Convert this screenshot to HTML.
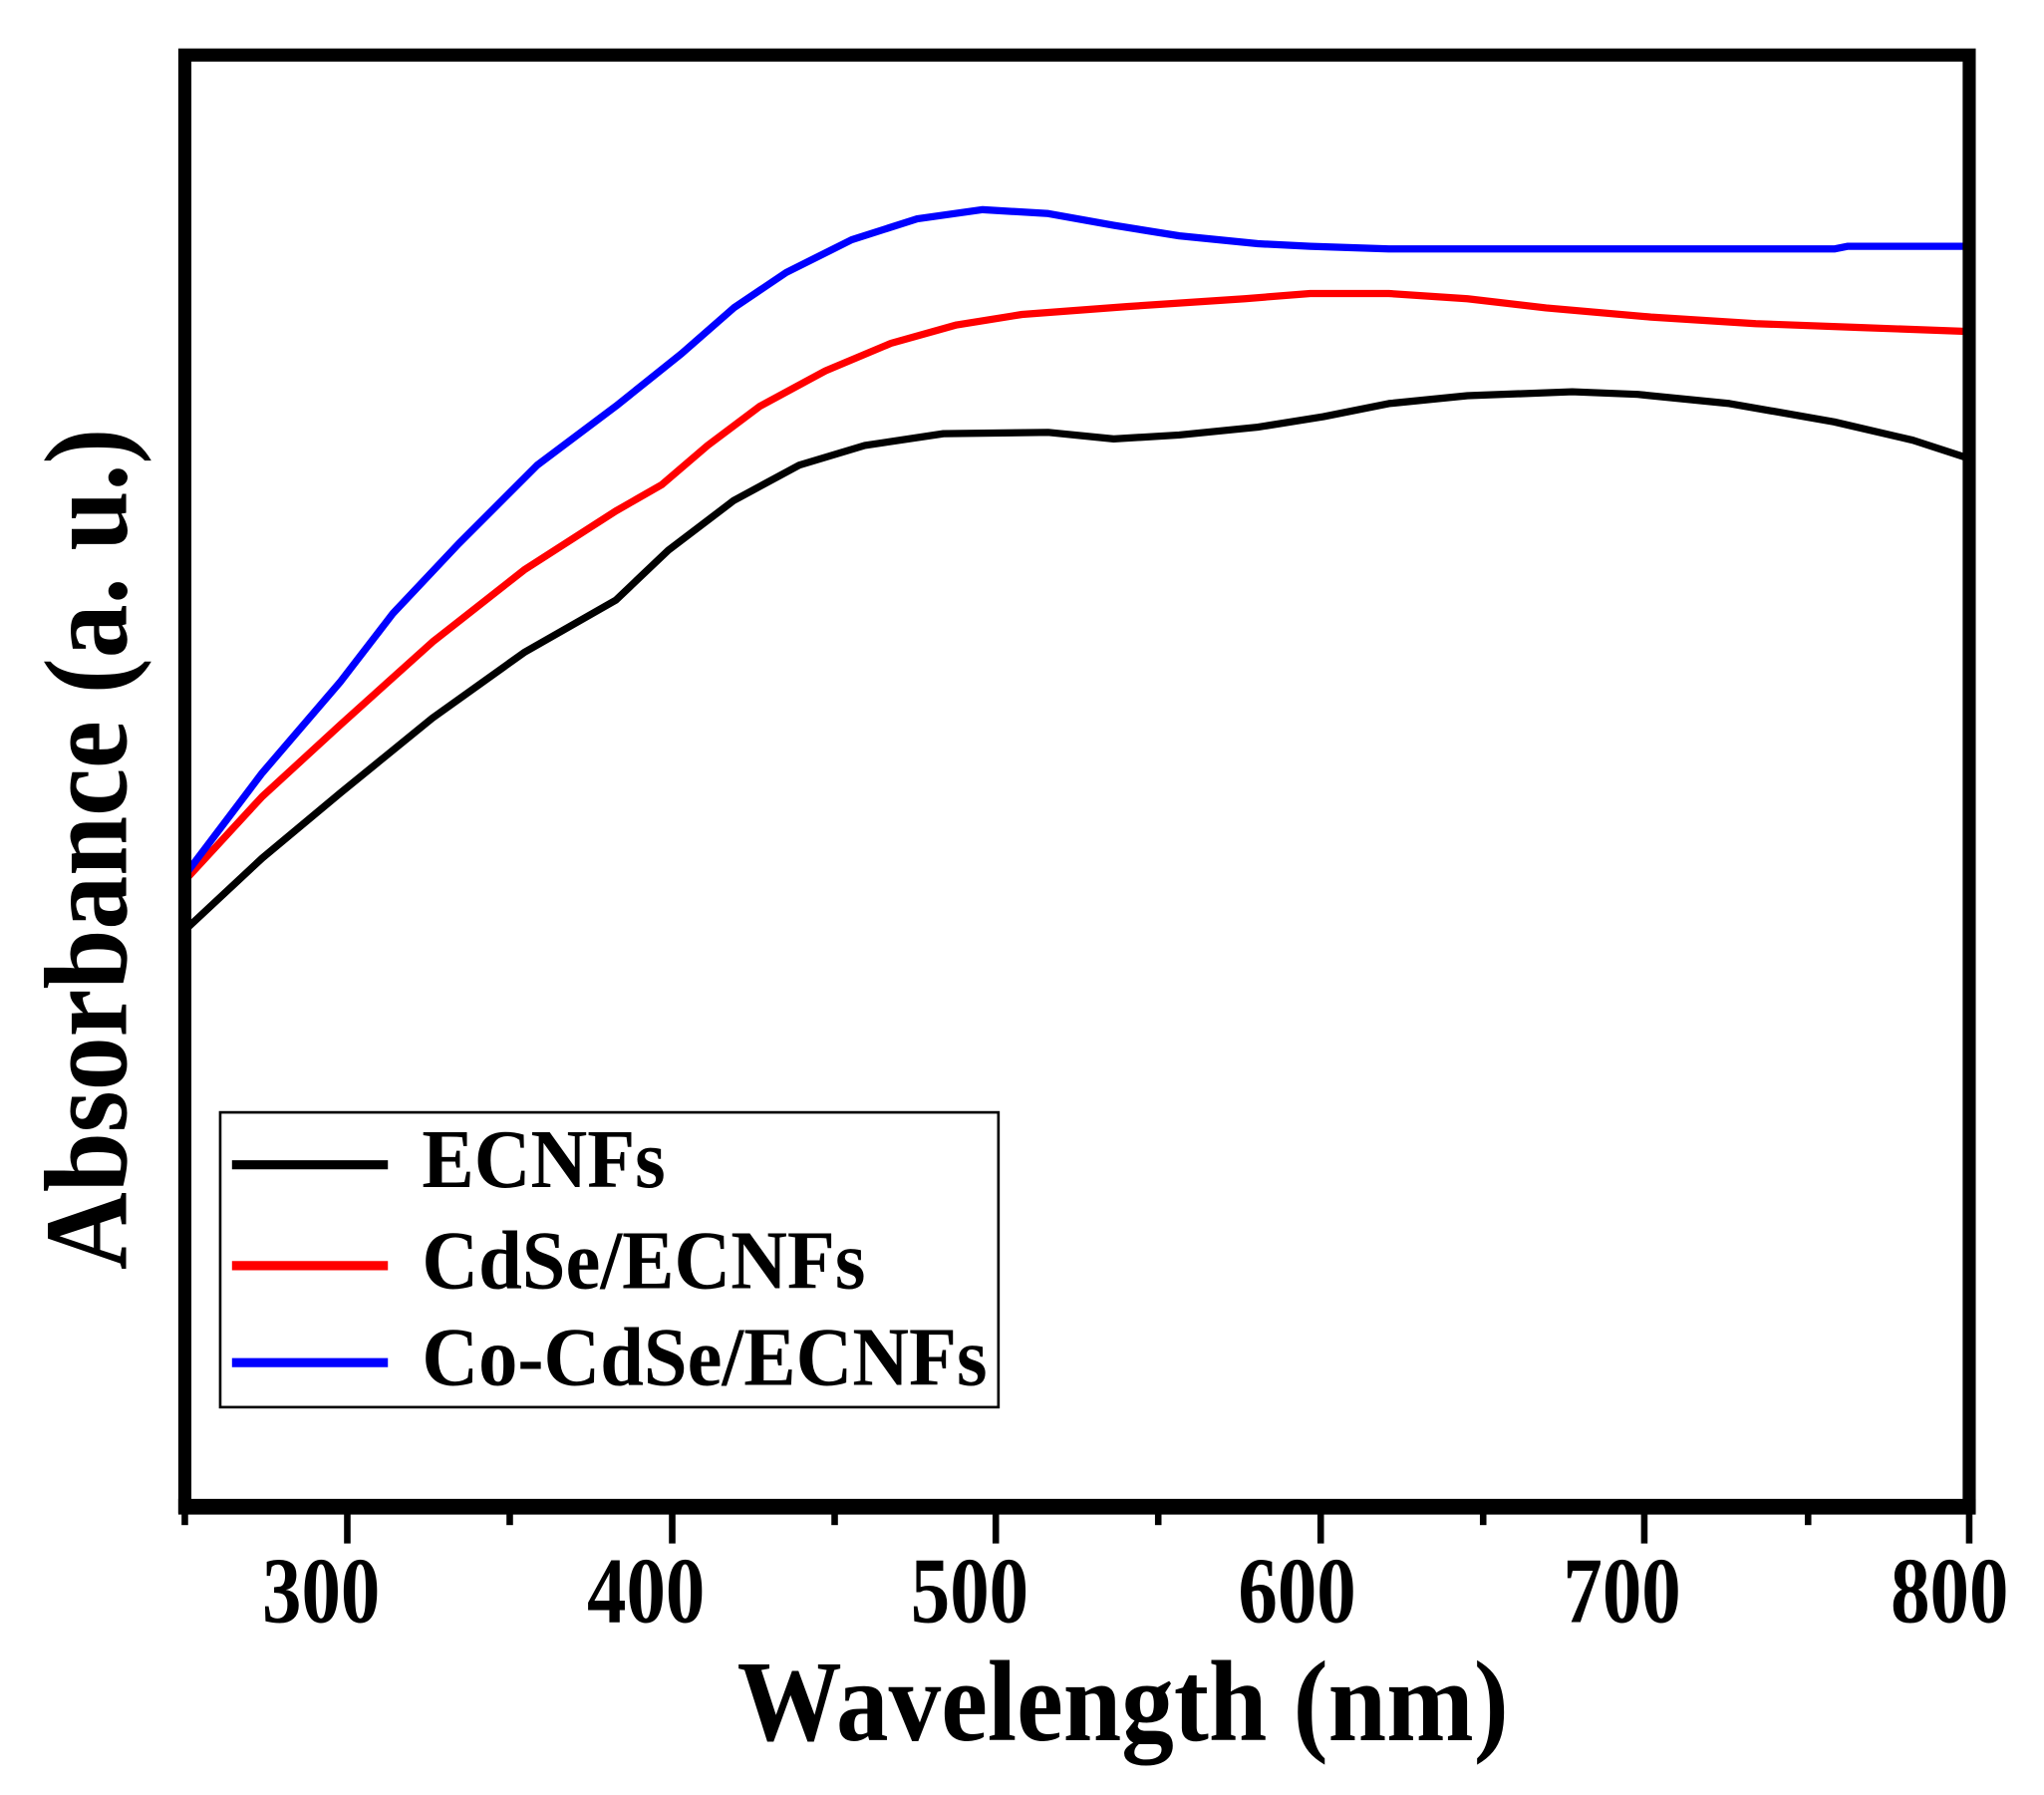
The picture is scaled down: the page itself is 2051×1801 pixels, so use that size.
<!DOCTYPE html>
<html><head><meta charset="utf-8"><style>html,body{margin:0;padding:0;background:#fff}svg{display:block}</style></head>
<body>
<svg width="2051" height="1801" viewBox="0 0 1560 1370" xmlns="http://www.w3.org/2000/svg">
<rect width="1560" height="1370" fill="#fff"/>
<g fill="none" stroke-linejoin="round" stroke-linecap="round" stroke-width="5.5">
<polyline stroke="#000" points="141,710 200,655 260,605 330,548 400,498 470,458 510,420 560,382 610,355 660,340 720,331 800,330 850,335 900,332 960,326 1010,318 1060,308 1120,302 1200,299 1250,301 1320,308 1400,322 1460,336 1503,350"/>
<polyline stroke="#ff0000" points="141,672 200,608 260,553 330,490 400,435 470,390 505,370 540,340 580,310 630,283 680,262 730,248 780,240 860,234 950,228 1000,224 1060,224 1120,228 1180,235 1260,242 1340,247 1420,250 1503,253"/>
<polyline stroke="#0000ff" points="141,668 200,590 260,520 300,468 350,415 410,355 470,310 520,270 560,235 600,208 650,183 700,167 750,160 800,163 850,172 900,180 960,186 1000,188 1060,190 1200,190 1400,190 1410,188 1503,188"/>
</g>
<g stroke="#000" fill="none">
<rect x="141" y="42" width="1362" height="1108" stroke-width="10"/>
<line x1="136" y1="1150" x2="1508" y2="1150" stroke-width="12"/>
<g stroke-width="5">
<line x1="265" y1="1150" x2="265" y2="1178"/><line x1="513" y1="1150" x2="513" y2="1178"/><line x1="760" y1="1150" x2="760" y2="1178"/><line x1="1008" y1="1150" x2="1008" y2="1178"/><line x1="1255" y1="1150" x2="1255" y2="1178"/><line x1="1503" y1="1150" x2="1503" y2="1178"/>
<line x1="141" y1="1150" x2="141" y2="1164"/><line x1="389" y1="1150" x2="389" y2="1164"/><line x1="637" y1="1150" x2="637" y2="1164"/><line x1="884" y1="1150" x2="884" y2="1164"/><line x1="1132" y1="1150" x2="1132" y2="1164"/><line x1="1380" y1="1150" x2="1380" y2="1164"/>
</g>
<rect x="168" y="849" width="594" height="225" stroke-width="2"/>
</g>
<g font-family="'Liberation Serif', serif" font-weight="bold" fill="#000">
<g font-size="60" text-anchor="middle" transform="translate(0,1238) scale(1,1.2)">
<text x="245" y="0">300</text><text x="493" y="0">400</text><text x="740" y="0">500</text><text x="990" y="0">600</text><text x="1238" y="0">700</text><text x="1488" y="0">800</text>
</g>
<text transform="translate(857,1328) scale(1,1.1)" font-size="80" text-anchor="middle">Wavelength (nm)</text>
<text transform="translate(96,648) rotate(-90) scale(1,1.1)" font-size="82" text-anchor="middle">Absorbance (a. u.)</text>
<g font-size="58">
<text transform="translate(322,906) scale(1.03,1.1)">ECNFs</text><text transform="translate(322,983) scale(1.03,1.1)">CdSe/ECNFs</text><text transform="translate(322,1057) scale(1.03,1.1)">Co-CdSe/ECNFs</text>
</g>
</g>
<g stroke-width="7">
<line x1="177" y1="889" x2="296" y2="889" stroke="#000"/>
<line x1="177" y1="966" x2="296" y2="966" stroke="#ff0000"/>
<line x1="177" y1="1040" x2="296" y2="1040" stroke="#0000ff"/>
</g>
</svg>
</body></html>
